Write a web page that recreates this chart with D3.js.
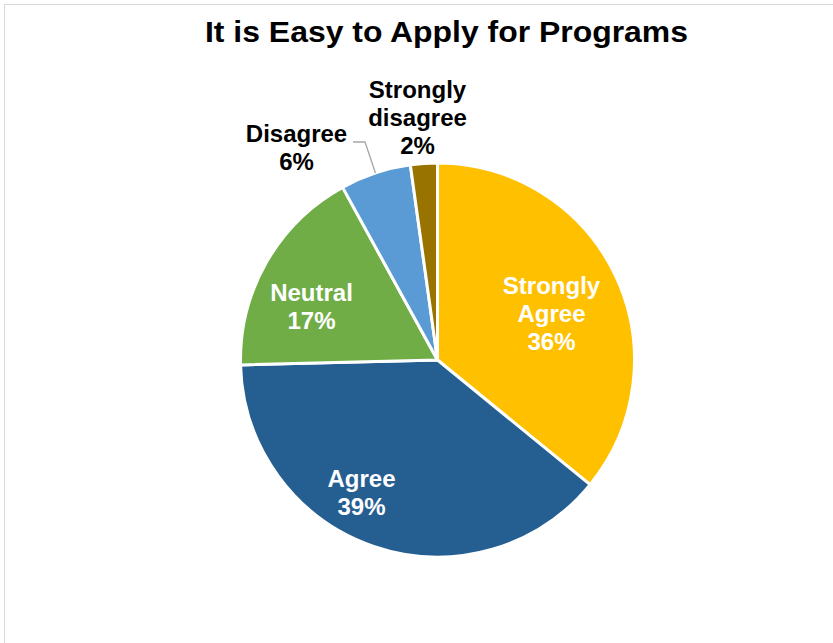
<!DOCTYPE html>
<html><head><meta charset="utf-8">
<script src="https://cdn.jsdelivr.net/npm/d3@7"></script>
<style>body{margin:0;background:#fff;font-family:"Liberation Sans",Arial,sans-serif;}</style>
</head><body>
<svg id="c" width="833" height="643"></svg>
<script>
const categories = ["Strongly Agree", "Agree", "Neutral", "Disagree", "Strongly disagree"];
const values = [35.9, 38.7, 17.4, 5.8, 2.2];
const percentLabels = ["36%", "39%", "17%", "6%", "2%"];
const colors = ["#FFC000", "#255E91", "#70AD47", "#5B9BD5", "#997300"];
const nameLines = [["Strongly","Agree"],["Agree"],["Neutral"],["Disagree"],["Strongly","disagree"]];

const svg = d3.select("#c");
svg.append("rect").attr("x",4.5).attr("y",4.5).attr("width",840).attr("height",650)
  .attr("fill","#fff").attr("stroke","#D9D9D9").attr("stroke-width",1);

svg.append("text").attr("x",446.5).attr("y",42).attr("text-anchor","middle")
  .attr("font-size",29).attr("font-weight","bold").attr("fill","#000")
  .attr("textLength",483).attr("lengthAdjust","spacingAndGlyphs")
  .text("It is Easy to Apply for Programs");

const cx=437.5, cy=360, r=197;
const data = categories.map((c,i)=>({cat:c,value:values[i],color:colors[i],lines:nameLines[i].concat([percentLabels[i]])}));
const pie = d3.pie().sort(null).value(d=>d.value);
const arcs = pie(data);
const arc = d3.arc().innerRadius(0).outerRadius(r);
const g = svg.append("g").attr("transform",`translate(${cx},${cy})`);
g.selectAll("path").data(arcs).join("path")
  .attr("d",arc).attr("fill",d=>d.data.color)
  .attr("stroke","#fff").attr("stroke-width",3).attr("stroke-linejoin","round");

// label centres relative to pie centre
const labelPos = [[114,-47],[-76,132],[-126,-54],[-141,-213],[-20,-243]];
const inside = [true,true,true,false,false];
const lh = 28;
arcs.forEach((a,i)=>{
  const [lx,ly] = labelPos[i];
  const lines = a.data.lines;
  const t = g.append("text").attr("text-anchor","middle").attr("font-size",24)
    .attr("font-weight","bold").attr("fill", inside[i] ? "#fff" : "#000");
  const y0 = ly - (lines.length-1)*lh/2;
  lines.forEach((s,j)=>t.append("tspan").attr("x",lx).attr("y",y0+j*lh+8.5).text(s));
});
// leader line for Disagree
const ang = (arcs[3].startAngle+arcs[3].endAngle)/2;
const ex = Math.sin(ang)*r, ey = -Math.cos(ang)*r;
g.append("path").attr("d",`M${-84.5},${-218} L${-72.5},${-218} L${ex},${ey}`)
  .attr("fill","none").attr("stroke","#A6A6A6").attr("stroke-width",1.3);
</script>
</body></html>
